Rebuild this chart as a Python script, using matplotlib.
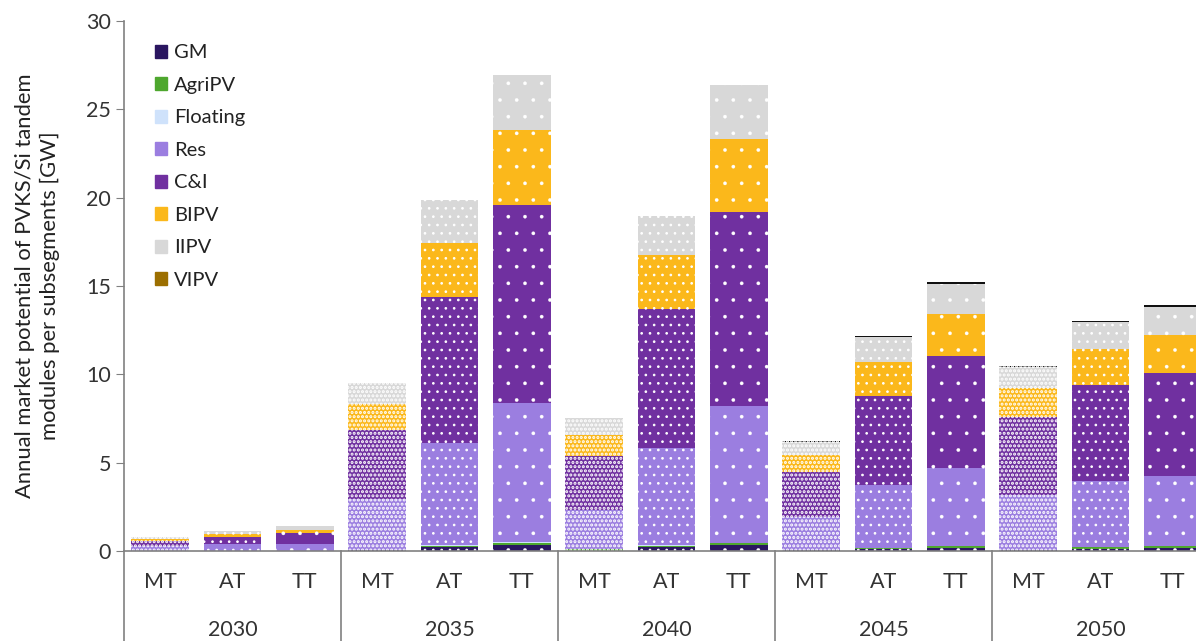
import matplotlib.pyplot as plt
import matplotlib.patches as mpatches
import numpy as np

plt.rcParams['font.family'] = ['Lato', 'DejaVu Sans']
plt.rcParams['hatch.linewidth'] = 0.8

years = ['2030', '2035', '2040', '2045', '2050']
scenarios = ['MT', 'AT', 'TT']

# GW per subsegment, order: 2030 MT/AT/TT, 2035 MT/AT/TT, ... 2050 MT/AT/TT
gm       = [0.01, 0.01, 0.01, 0.06, 0.22, 0.35, 0.02, 0.23, 0.33, 0.03, 0.12, 0.19, 0.05, 0.10, 0.19]
agripv   = [0.00, 0.00, 0.00, 0.00, 0.08, 0.10, 0.07, 0.07, 0.10, 0.03, 0.05, 0.07, 0.03, 0.12, 0.07]
floating = [0.00, 0.00, 0.00, 0.00, 0.04, 0.05, 0.00, 0.03, 0.05, 0.00, 0.00, 0.03, 0.00, 0.00, 0.00]
res      = [0.29, 0.36, 0.41, 2.87, 5.80, 7.88, 2.23, 5.52, 7.72, 1.85, 3.57, 4.41, 3.09, 3.76, 3.98]
ci       = [0.28, 0.45, 0.58, 3.92, 8.25, 11.20, 3.08, 7.85, 10.99, 2.58, 5.05, 6.34, 4.41, 5.41, 5.83]
bipv     = [0.09, 0.15, 0.17, 1.47, 3.05, 4.25, 1.16, 3.05, 4.13, 0.94, 1.91, 2.37, 1.63, 2.04, 2.15]
iipv     = [0.12, 0.15, 0.23, 1.17, 2.40, 3.12, 0.97, 2.21, 3.05, 0.73, 1.40, 1.70, 1.19, 1.54, 1.58]
vipv     = [0.00, 0.00, 0.00, 0.00, 0.00, 0.00, 0.00, 0.00, 0.00, 0.06, 0.05, 0.10, 0.05, 0.05, 0.10]

series = [gm, agripv, floating, res, ci, bipv, iipv, vipv]
names = ['GM', 'AgriPV', 'Floating', 'Res', 'C&I', 'BIPV', 'IIPV', 'VIPV']
colors = ['#2a1660', '#4ea72e', '#cfe2fb', '#9b7ee0', '#7030a0', '#fbb81b', '#d8d8d8', '#9c6f00']
# VIPV slivers at the top of the stacks show up as a dark rule
bar_colors = colors[:7] + ['#111111']
# dot pattern per scenario: dense checker for MT, medium for AT, sparse for TT
hatches = {'MT': '....', 'AT': '..', 'TT': '.'}
hatch_lw = {'MT': 1.5, 'AT': 0.7, 'TT': 0.2}

fig = plt.figure(figsize=(11.96, 6.41), dpi=100)
ax = fig.add_axes([124 / 1196, 90 / 641, 1085 / 1196, 530 / 641])

x = np.arange(len(years) * len(scenarios))
bottom = np.zeros(len(x))
for k, (vals, col) in enumerate(zip(series, bar_colors)):
    vals = np.array(vals)
    for i in range(len(x)):
        if vals[i] <= 0:
            continue
        sc = scenarios[i % 3]
        h = hatches[sc]
        if k == 7 and sc != 'MT':
            h = None
        bars = ax.bar(x[i], vals[i], width=0.8, bottom=bottom[i], color=col,
                      edgecolor='white', linewidth=0, hatch=h)
        for p in bars:
            p.set_hatch_linewidth(hatch_lw[sc])
    bottom += vals

ax.set_xlim(-0.5, len(x) - 0.5)
ax.set_ylim(0, 30)
ax.set_yticks(range(0, 31, 5))
ax.tick_params(axis='y', labelsize=15.5, length=6, color='#808080', labelcolor='#333333')
ax.set_xticks(x, [scenarios[i % 3] for i in range(len(x))])
ax.tick_params(axis='x', length=0, labelsize=15.5, pad=15, labelcolor='#333333')
for s in ['top', 'right']:
    ax.spines[s].set_visible(False)
for s in ['left', 'bottom']:
    ax.spines[s].set_color('#808080')
    ax.spines[s].set_linewidth(1.2)

ax.set_ylabel('Annual market potential of PVKS/Si tandem\nmodules per subsegments [GW]',
              fontsize=15.8, color='#222222', labelpad=19, linespacing=1.3)

# second level of the category axis: years and separators
trans = ax.get_xaxis_transform()
for g, yr in enumerate(years):
    ax.text(g * 3 + 1, -0.149, yr, transform=trans, ha='center', va='center',
            fontsize=15.5, color='#333333')
for b in np.arange(-0.5, len(x), 3):
    ax.plot([b, b], [0, -0.2], transform=trans, color='#808080', lw=1.2, clip_on=False)

handles = [mpatches.Patch(color=c, label=n) for n, c in zip(names, colors)]
ax.legend(handles=handles, loc='upper left', bbox_to_anchor=(0.012, 0.99), frameon=False,
          fontsize=14.5, handlelength=0.6, handleheight=0.6, handletextpad=0.35,
          labelspacing=0.77, labelcolor='#222222')

fig.savefig('out.png', dpi=100)
